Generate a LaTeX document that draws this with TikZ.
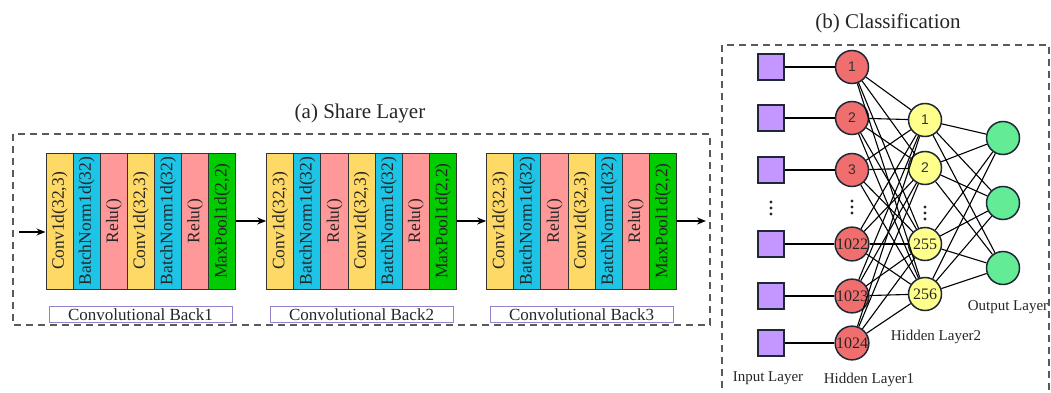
\documentclass[tikz,border=0pt]{standalone}
\usepackage{fontspec}
\setmainfont{Liberation Serif}
\newfontfamily\sansf{Liberation Sans}
\usetikzlibrary{arrows.meta}
\definecolor{convc}{RGB}{255,217,102}
\definecolor{bnc}{RGB}{30,196,230}
\definecolor{reluc}{RGB}{255,153,153}
\definecolor{poolc}{RGB}{0,204,0}
\definecolor{inc}{RGB}{196,150,255}
\definecolor{hoc}{RGB}{240,110,110}
\definecolor{htc}{RGB}{255,255,140}
\definecolor{outc}{RGB}{100,235,150}
\definecolor{edgec}{RGB}{30,40,55}
\definecolor{dashc}{RGB}{90,90,90}
\definecolor{labc}{RGB}{150,130,200}
\newcommand\convblock[2]{%
 \node[layer,fill=convc] (#1a) at (#2+13.57,221) {\rotatebox{90}{Conv1d(32,3)}};
 \node[layer,fill=bnc]   (#1b) at (#2+40.71,221) {\rotatebox{90}{BatchNorm1d(32)}};
 \node[layer,fill=reluc] (#1c) at (#2+67.85,221) {\rotatebox{90}{Relu()}};
 \node[layer,fill=convc] (#1d) at (#2+94.99,221) {\rotatebox{90}{Conv1d(32,3)}};
 \node[layer,fill=bnc]   (#1e) at (#2+122.13,221) {\rotatebox{90}{BatchNorm1d(32)}};
 \node[layer,fill=reluc] (#1f) at (#2+149.27,221) {\rotatebox{90}{Relu()}};
 \node[layer,fill=poolc] (#1g) at (#2+176.41,221) {\rotatebox{90}{MaxPool1d(2,2)}};
}
\begin{document}
\begin{tikzpicture}[x=1pt,y=-1pt,
  layer/.style={draw=black!80, line width=1pt, minimum width=27.14pt, minimum height=136pt,
    inner sep=0pt, font=\fontsize{17.5}{18}\selectfont, text=black!85},
  lab/.style={draw=labc, line width=0.9pt, minimum width=183pt, minimum height=16pt, inner sep=0pt,
    font=\fontsize{17}{17}\selectfont, text=black!85},
  title/.style={font=\fontsize{21}{22}\selectfont, text=black!85},
  dashbox/.style={draw=dashc, line width=1.3pt, dash pattern=on 7pt off 5pt},
  arr/.style={line width=1.3pt, -{Stealth[length=9pt,width=7pt]}},
  inp/.style={draw=edgec, line width=1.3pt, fill=inc, minimum size=26pt, inner sep=0pt},
  neuron/.style={circle, draw=edgec, line width=1.5pt, minimum size=33pt, inner sep=0pt},
  small/.style={font=\sansf\fontsize{14}{14}\selectfont, text=black!80},
  big/.style={font=\fontsize{16}{16}\selectfont, text=black!85},
  conn/.style={line width=1.1pt, draw=black},
  layname/.style={font=\fontsize{15}{15}\selectfont, text=black!85}
]
\useasboundingbox (0,0) rectangle (1051,393);
% ---------------- (a) Share layer
\draw[dashbox] (13,134) rectangle (710,325);
\node[title] (ta) at (360,113) {(a) Share Layer};
\convblock{B1}{46}
\convblock{B2}{266.7}
\convblock{B3}{486.7}
\node[lab] (L1) at (140.5,314.5) {Convolutional Back1};
\node[lab] (L2) at (361.5,314.5) {Convolutional Back2};
\node[lab] (L3) at (581.5,314.5) {Convolutional Back3};
\coordinate (in) at (19,232);
\coordinate (out) at (706,221);
\draw[arr] (in) -- (in -| B1a.west);
\draw[arr] (B1g.east) -- (B2a.west);
\draw[arr] (B2g.east) -- (B3a.west);
\draw[arr] (B3g.east) -- (out);
% ---------------- (b) Classification
\draw[dashbox] (722,400) -- (722,45) -- (1049,45) -- (1049,400);
\node[title] (tb) at (888,23) {(b) Classification};
% inputs
\foreach \i/\y in {1/67,2/118,3/170,4/244,5/296,6/343}
  \node[inp] (x\i) at (771,\y) {};
% hidden 1
\node[neuron,fill=hoc,small] (h1) at (852,67) {1};
\node[neuron,fill=hoc,small] (h2) at (852,118) {2};
\node[neuron,fill=hoc,small] (h3) at (852,170) {3};
\node[neuron,fill=hoc,big] (h4) at (852,244) {1022};
\node[neuron,fill=hoc,big] (h5) at (852,296) {1023};
\node[neuron,fill=hoc,big] (h6) at (852,343) {1024};
% hidden 2
\node[neuron,fill=htc,small] (g1) at (925,120) {1};
\node[neuron,fill=htc,small] (g2) at (925,168) {2};
\node[neuron,fill=htc,big] (g3) at (925,244) {255};
\node[neuron,fill=htc,big] (g4) at (925,294) {256};
% output
\node[neuron,fill=outc] (o1) at (1003,138) {};
\node[neuron,fill=outc] (o2) at (1003,203) {};
\node[neuron,fill=outc] (o3) at (1003,268) {};
% connections
\foreach \i in {1,...,6} \draw[conn] (x\i) -- (h\i);
\foreach \i in {1,...,6} \foreach \j in {1,...,4} \draw[conn] (h\i) -- (g\j);
\foreach \i in {1,...,4} \foreach \j in {1,...,3} \draw[conn] (g\i) -- (o\j);
% dots
\foreach \d in {-6,0,6} {
  \fill[black!85] (771,208+\d) circle (1.7);
  \fill[black!85] (852,207+\d) circle (1.7);
  \fill[black!85] (925,213+\d) circle (1.7);
}
% layer names
\node[layname] (n1) at (768,378) {Input Layer};
\node[layname] (n2) at (869,380) {Hidden Layer1};
\node[layname] (n3) at (936,337) {Hidden Layer2};
\node[layname] (n4) at (1008,307) {Output Layer};
\end{tikzpicture}
\end{document}
